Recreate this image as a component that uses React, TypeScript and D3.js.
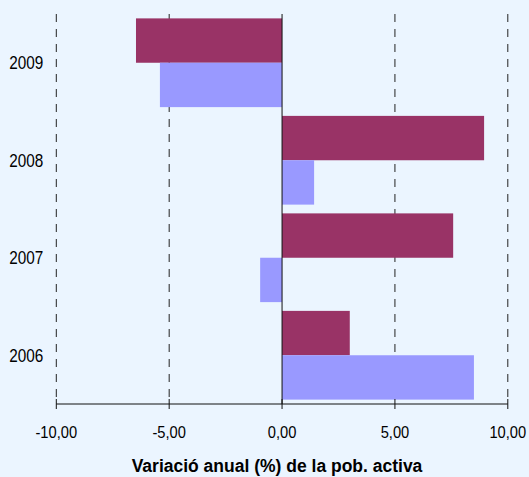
import React from "react";
import * as d3 from "d3";

const categories = ["2009", "2008", "2007", "2006"];
const seriesA = [-6.47, 8.95, 7.58, 3.0];
const seriesB = [-5.41, 1.42, -0.97, 8.5];
const xTicks = [-10, -5, 0, 5, 10];
const xTitle = "Variació anual (%) de la pob. activa";

const W = 529;
const H = 477;
const left = 56.3;
const right = 507.8;
const top = 14;
const bottom = 404;

function SText(props: { x: number; y: number; sx: number; anchor: string; size: number; weight?: string; children: React.ReactNode }) {
  return (
    <text
      transform={`translate(${props.x},${props.y}) scale(${props.sx},1)`}
      textAnchor={props.anchor}
      fontSize={props.size}
      fontWeight={props.weight || "normal"}
      fill="#000"
    >
      {props.children}
    </text>
  );
}

export default function App() {
  const x = d3.scaleLinear().domain([-10, 10]).range([left, right]);
  const y = d3.scaleBand().domain(categories).range([top, bottom]).paddingInner(0.09).paddingOuter(0.045);
  const bw = y.bandwidth() / 2;
  const fmt = (v: number) => v.toFixed(2).replace(".", ",");
  const font = "'Liberation Sans', Arial, sans-serif";
  return (
    <svg width={W} height={H} style={{ position: "absolute", left: 0, top: 0 }} fontFamily={font}>
      <rect x={0} y={0} width={W} height={H} fill="#EBF5FF" />
      {xTicks.filter((t) => t !== 0).map((t) => (
        <line key={"g" + t} x1={x(t)} x2={x(t)} y1={top} y2={bottom} stroke="#222" strokeWidth={1} strokeDasharray="8,7" />
      ))}
      {categories.map((c, i) => (
        <g key={c}>
          <rect x={Math.min(x(0), x(seriesA[i]))} y={y(c)!} width={Math.abs(x(seriesA[i]) - x(0))} height={bw} fill="#993366" />
          <rect x={Math.min(x(0), x(seriesB[i]))} y={y(c)! + bw} width={Math.abs(x(seriesB[i]) - x(0))} height={bw} fill="#9999FF" />
          <SText x={43.3} y={y(c)! + y.bandwidth() / 2 + 6.5} sx={0.85} anchor="end" size={18}>{c}</SText>
        </g>
      ))}
      <line x1={x(0)} x2={x(0)} y1={top} y2={bottom} stroke="#111" strokeWidth={1} />
      <line x1={left} x2={right} y1={bottom} y2={bottom} stroke="#111" strokeWidth={1} />
      {xTicks.map((t) => (
        <g key={"t" + t}>
          <line x1={x(t)} x2={x(t)} y1={bottom - 5} y2={bottom + 5} stroke="#111" strokeWidth={1} />
          <SText x={x(t)} y={438.3} sx={0.865} anchor="middle" size={17}>{fmt(t)}</SText>
        </g>
      ))}
      <SText x={277} y={471.7} sx={0.946} anchor="middle" size={18.5} weight="bold">{xTitle}</SText>
    </svg>
  );
}
